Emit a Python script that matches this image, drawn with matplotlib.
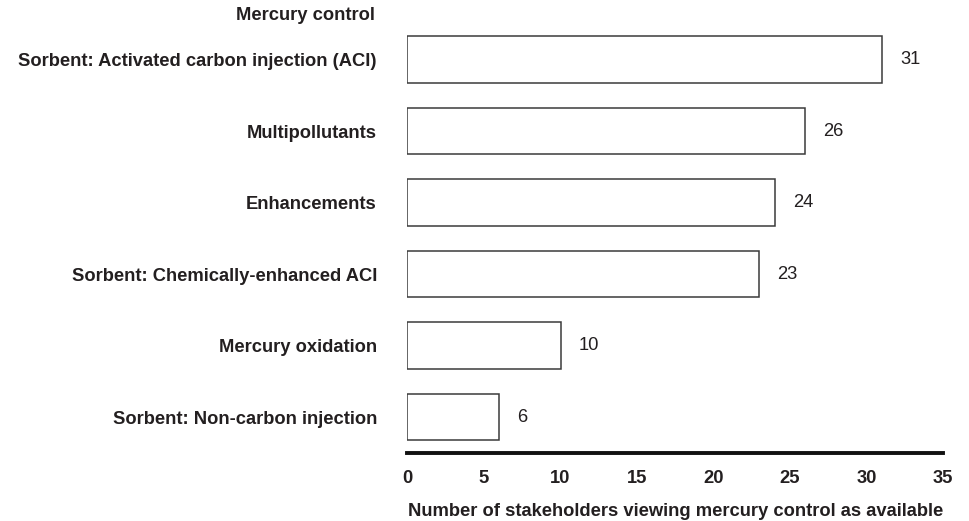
import matplotlib
matplotlib.use('Agg')
import matplotlib.pyplot as plt

plt.rcParams.update({
    'font.family': ['Liberation Sans', 'DejaVu Sans'],
    'font.size': 13.2,
})

categories = [
    'Sorbent: Activated carbon injection (ACI)',
    'Multipollutants',
    'Enhancements',
    'Sorbent: Chemically-enhanced ACI',
    'Mercury oxidation',
    'Sorbent: Non-carbon injection',
]
counts = [31, 26, 24, 23, 10, 6]
x_ticks = [0, 5, 10, 15, 20, 25, 30, 35]

TEXT = '#231f20'
EDGE = '#3a3a3a'

fig = plt.figure(figsize=(9.7, 5.21), dpi=100)
ax = fig.add_axes([0.4201, 0.1305, 0.5521, 0.8305])

pos = list(range(len(categories)))
bars = ax.barh(pos, counts, height=0.65, color='white', edgecolor=EDGE, linewidth=1.1)

# value labels just right of each bar
for bar, val in zip(bars, counts):
    ax.annotate(f'{val}', xy=(bar.get_width(), bar.get_y() + bar.get_height() / 2),
                xytext=(13, 0), textcoords='offset points',
                ha='left', va='center', color=TEXT)

ax.set_xlim(0, 35)
ax.set_ylim(5.5, -0.55)
ax.set_xticks(x_ticks)
ax.set_xticklabels([str(t) for t in x_ticks], fontweight='bold', color=TEXT)
ax.set_yticks(pos)
ax.set_yticklabels(categories, fontweight='bold', color=TEXT)
ax.tick_params(axis='x', length=0, pad=12.5)
ax.tick_params(axis='y', length=0, pad=22)

for side in ['top', 'right', 'left']:
    ax.spines[side].set_visible(False)
ax.spines['bottom'].set_linewidth(2.8)
ax.spines['bottom'].set_color('#111111')

ax.set_xlabel('Number of stakeholders viewing mercury control as available',
              fontweight='bold', color=TEXT, labelpad=11)

fig.text(375 / 970, 1 - 15 / 521, 'Mercury control', ha='right', va='center',
         fontweight='bold', color=TEXT)

plt.savefig('out.png', dpi=100)
plt.close()
